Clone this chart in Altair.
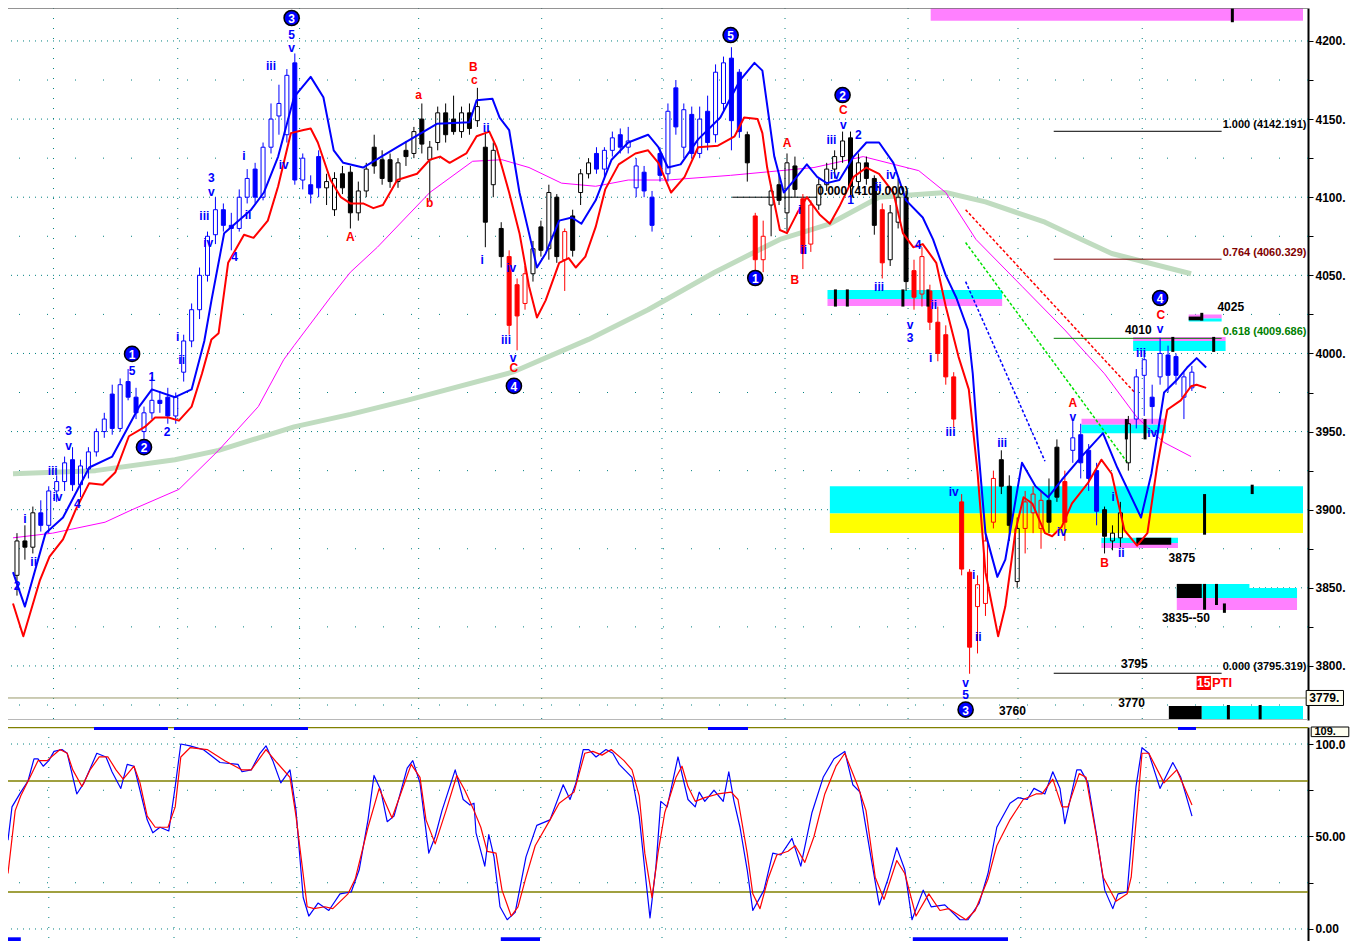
import altair as alt
import pandas as pd

FONT = "Liberation Sans"
W, H1, H2 = 1300, 712, 214
XMIN, XMAX = -0.5, 162.0
PMIN, PMAX = 3765.4, 4221.1
SMIN, SMAX = -6.5, 109.2

# ---------------- candles (one per bar, index = time) ----------------
OPEN = [3858, 3880, 3876, 3898, 3890, 3912, 3918, 3932, 3916, 3926,
        3937, 3950, 3974, 3952, 3982, 3972, 3950, 3962, 3970, 3972,
        3960, 3988, 4008, 4028, 4050, 4076, 4092, 4082, 4080, 4100,
        4118, 4100, 4132, 4152, 4140, 4186, 4111, 4108, 4126, 4106,
        4092, 4115, 4116, 4090, 4104, 4132, 4124, 4124, 4110, 4130,
        4128, 4150, 4124, 4135, 4154, 4150, 4142, 4154, 4149, 4132,
        4108, 4080, 4062, 4044, 4032, 4051, 4081, 4067, 4100, 4060,
        4088, 4103, 4115, 4128, 4118, 4130, 4140, 4132, 4106, 4116,
        4100, 4128, 4115, 4170, 4132, 4153, 4128, 4155, 4140, 4160,
        4189, 4180, 4140, 4088, 4060, 4095, 4108, 4090, 4120, 4099,
        4070, 4095, 4108, 4118, 4126, 4138, 4110, 4122, 4112, 4092,
        4060, 4084, 4100, 4053, 4038, 4040, 4020, 4012, 3985, 3905,
        3860, 3838, 3840, 3892, 3932, 3915, 3854, 3888, 3898, 3888,
        3906, 3940, 3918, 3938, 3948, 3938, 3925, 3900, 3880, 3882,
        3930, 3958, 3986, 3972, 3985, 3999, 3998, 3972, 3978]
HIGH = [3885, 3890, 3902, 3906, 3915, 3922, 3934, 3940, 3932, 3940,
        3952, 3962, 3980, 3984, 3990, 3978, 3966, 3985, 3976, 3978,
        3975, 4012, 4032, 4055, 4078, 4100, 4096, 4090, 4105, 4118,
        4122, 4135, 4160, 4172, 4182, 4192, 4128, 4114, 4130, 4115,
        4116, 4120, 4120, 4110, 4122, 4140, 4130, 4128, 4125, 4136,
        4145, 4160, 4136, 4158, 4160, 4165, 4158, 4160, 4170, 4142,
        4135, 4084, 4066, 4048, 4056, 4072, 4085, 4108, 4102, 4080,
        4092, 4118, 4125, 4132, 4132, 4142, 4144, 4145, 4125, 4120,
        4104, 4132, 4160, 4175, 4160, 4158, 4158, 4165, 4185, 4190,
        4196, 4182, 4142, 4090, 4085, 4108, 4115, 4128, 4126, 4102,
        4098, 4112, 4122, 4130, 4142, 4142, 4128, 4126, 4114, 4096,
        4095, 4112, 4104, 4060, 4068, 4044, 4030, 4018, 3988, 3910,
        3862, 3858, 3885, 3925, 3938, 3922, 3895, 3912, 3915, 3912,
        3920, 3945, 3925, 3958, 3955, 3942, 3930, 3902, 3890, 3905,
        3960, 3990, 4002, 3980, 4010, 4005, 4000, 3988, 3992]
LOW = [3845, 3868, 3872, 3886, 3885, 3905, 3912, 3912, 3908, 3920,
       3934, 3946, 3948, 3950, 3970, 3958, 3944, 3958, 3962, 3955,
       3955, 3982, 4004, 4022, 4046, 4070, 4078, 4066, 4078, 4096,
       4096, 4098, 4128, 4140, 4135, 4108, 4105, 4096, 4100, 4095,
       4088, 4102, 4080, 4085, 4100, 4115, 4108, 4106, 4106, 4120,
       4125, 4128, 4098, 4130, 4135, 4140, 4138, 4140, 4145, 4068,
       4100, 4055, 4012, 4002, 4028, 4046, 4062, 4060, 4058, 4040,
       4062, 4095, 4112, 4115, 4112, 4126, 4128, 4128, 4100, 4100,
       4078, 4110, 4110, 4140, 4125, 4125, 4125, 4130, 4135, 4155,
       4130, 4138, 4110, 4052, 4052, 4075, 4095, 4078, 4100, 4054,
       4065, 4092, 4104, 4112, 4122, 4100, 4105, 4108, 4076, 4048,
       4056, 4080, 4040, 4028, 4030, 4015, 3995, 3980, 3952, 3858,
       3795, 3808, 3832, 3888, 3910, 3880, 3850, 3872, 3885, 3875,
       3885, 3905, 3880, 3930, 3920, 3912, 3890, 3872, 3874, 3876,
       3925, 3952, 3960, 3955, 3980, 3975, 3980, 3958, 3976]
CLOSE = [3880, 3876, 3898, 3890, 3912, 3918, 3930, 3916, 3928, 3937,
         3950, 3958, 3952, 3980, 3972, 3962, 3962, 3970, 3968, 3960,
         3972, 4008, 4028, 4050, 4075, 4092, 4082, 4080, 4100, 4112,
         4100, 4132, 4150, 4160, 4178, 4111, 4125, 4102, 4106, 4110,
         4112, 4106, 4090, 4104, 4118, 4120, 4112, 4110, 4122, 4126,
         4142, 4134, 4132, 4154, 4140, 4142, 4154, 4144, 4158, 4084,
         4130, 4062, 4018, 4024, 4051, 4067, 4066, 4103, 4062, 4078,
         4066, 4115, 4122, 4118, 4130, 4138, 4132, 4136, 4120, 4104,
         4082, 4114, 4155, 4145, 4156, 4128, 4150, 4135, 4180, 4186,
         4149, 4142, 4122, 4060, 4075, 4104, 4098, 4122, 4105, 4064,
         4095, 4108, 4118, 4126, 4136, 4107, 4122, 4112, 4082, 4058,
         4090, 4100, 4046, 4036, 4062, 4020, 4000, 3985, 3958, 3862,
         3812, 3852, 3880, 3920, 3915, 3890, 3888, 3905, 3910, 3906,
         3892, 3908, 3892, 3946, 3930, 3920, 3899, 3883, 3885, 3898,
         3955, 3985, 3996, 3966, 4000, 3986, 3986, 3985, 3988]
BAR_COLOR = list(
    "kkkbbbbbbb"
    "bbbbbbbbbb"
    "bbbbbbbbbb"
    "bbbbbbbbbk"
    "kkkkkkkkkk"
    "kkkkkkkkkk"
    "kkrrrkkkkr"
    "kkkbbbbbbb"
    "bbbbbbbbbb"
    "bbkrrkkkkr"
    "rkkkkkkkkr"
    "kkkrrrrrrr"
    "rrrrkkkrrr"
    "kkrbbbbkkk"
    "kbbbbbbbb"
)
COLMAP = {"k": "#000000", "b": "#0000FF", "r": "#FF0000"}

# ---------------- indicator lines (bar index, price) ----------------
BLUE = [(-0.5, 3860), (1.0, 3838), (3.6, 3885), (5.8, 3895), (9.1, 3927), (12.0, 3934), (15.4, 3966),
        (17.0, 3977), (19.9, 3972), (22.0, 3977), (23.6, 4008), (24.5, 4034), (26.1, 4077), (29.5, 4092),
        (31.1, 4103), (32.9, 4126), (34.9, 4164), (37.0, 4177), (38.6, 4164), (39.9, 4130), (41.1, 4122),
        (43.6, 4119), (47.9, 4132), (52.9, 4147), (57.0, 4148), (57.9, 4162), (59.9, 4163), (60.8, 4151),
        (62.0, 4143), (63.3, 4103), (64.5, 4077), (65.5, 4055), (66.6, 4064), (68.3, 4085), (69.9, 4087),
        (71.1, 4083), (72.9, 4098), (74.9, 4124), (77.0, 4135), (79.5, 4140), (80.8, 4132), (82.0, 4119),
        (83.6, 4121), (85.8, 4137), (88.6, 4151), (91.1, 4175), (92.9, 4186), (93.9, 4181), (95.4, 4126),
        (96.6, 4103), (97.9, 4111), (99.5, 4121), (100.8, 4113), (102.0, 4109), (103.6, 4111), (105.4, 4126),
        (107.0, 4135), (108.6, 4135), (110.4, 4122), (112.0, 4098), (114.1, 4087), (115.4, 4073), (117.0, 4050),
        (118.3, 4036), (119.8, 4015), (120.4, 3987), (121.0, 3945), (122.0, 3885), (123.5, 3857), (124.5, 3868),
        (126.6, 3930), (128.3, 3915), (129.9, 3908), (131.6, 3919), (134.1, 3934), (136.8, 3949), (138.6, 3927),
        (141.6, 3895), (142.9, 3923), (144.5, 3975), (146.1, 3983), (147.4, 3991), (148.6, 3997), (149.8, 3991)]
RED = [(-0.5, 3840), (0.8, 3819), (2.9, 3855), (4.1, 3870), (5.8, 3881), (7.4, 3900), (9.1, 3917), (10.8, 3916),
       (12.4, 3924), (14.1, 3947), (16.1, 3953), (17.4, 3959), (19.1, 3959), (20.4, 3957), (22.0, 3966),
       (23.3, 3987), (24.5, 4009), (25.4, 4013), (26.6, 4058), (28.6, 4076), (29.8, 4074), (31.6, 4085),
       (32.9, 4107), (34.5, 4141), (36.1, 4143), (37.0, 4144), (37.9, 4135), (39.5, 4111), (40.8, 4100),
       (42.0, 4096), (43.6, 4096), (44.9, 4093), (46.1, 4095), (47.9, 4111), (50.4, 4115), (52.0, 4124),
       (53.3, 4126), (54.5, 4122), (56.6, 4128), (57.9, 4139), (59.5, 4142), (60.4, 4132), (62.0, 4103),
       (63.3, 4077), (64.5, 4043), (65.5, 4023), (66.6, 4034), (68.3, 4058), (69.5, 4061), (70.4, 4055),
       (71.6, 4062), (72.9, 4081), (74.1, 4105), (75.8, 4121), (77.9, 4128), (79.5, 4130), (80.8, 4122),
       (82.4, 4103), (84.1, 4113), (85.8, 4132), (88.3, 4133), (90.4, 4139), (91.6, 4151), (93.3, 4150),
       (93.9, 4141), (94.5, 4119), (96.1, 4079), (97.0, 4077), (98.3, 4090), (99.5, 4100), (101.1, 4089),
       (102.4, 4083), (103.6, 4094), (105.4, 4113), (107.0, 4119), (108.6, 4115), (110.4, 4103), (111.6, 4077),
       (112.9, 4068), (114.1, 4070), (115.8, 4058), (117.0, 4030), (118.6, 3998), (119.9, 3977), (121.0, 3924),
       (122.0, 3860), (123.6, 3819), (124.5, 3838), (125.8, 3887), (126.8, 3908), (127.9, 3904), (129.5, 3885),
       (130.4, 3883), (131.6, 3889), (132.9, 3904), (134.9, 3917), (136.6, 3932), (137.9, 3923), (139.5, 3887),
       (141.1, 3877), (142.4, 3885), (143.6, 3927), (144.9, 3964), (146.6, 3970), (147.9, 3979), (148.6, 3980),
       (149.8, 3978)]
MAGENTA = [(-0.5, 3882), (4.5, 3885), (11.1, 3892), (14.5, 3900), (20.4, 3913), (25.4, 3938), (30.4, 3966),
           (33.6, 3996), (34.9, 4005), (39.5, 4036), (42.0, 4052), (45.4, 4068), (52.0, 4103), (57.4, 4123),
           (61.1, 4124), (64.5, 4119), (68.6, 4109), (72.9, 4107), (77.0, 4111), (82.0, 4111), (89.9, 4114),
           (100.4, 4119), (106.6, 4126), (113.6, 4117), (117.0, 4103), (120.8, 4073), (126.6, 4043),
           (132.0, 4015), (137.0, 3987), (141.1, 3959), (144.5, 3943), (147.9, 3934)]
SMA = [(-0.5, 3923), (9.9, 3925), (19.9, 3932), (25.4, 3938), (34.9, 3953), (42.0, 3961), (49.1, 3970),
       (62.4, 3988), (72.0, 4009), (79.5, 4028), (87.9, 4052), (96.1, 4073), (102.4, 4083), (108.6, 4100),
       (117.0, 4103), (122.0, 4097), (129.5, 4084), (134.1, 4073), (137.9, 4064), (147.9, 4051)]
TRENDS = [("blue", "#0000FF", 119.5, 4046, 129.5, 3931),
          ("green", "#00E000", 119.5, 4071, 139.9, 3930),
          ("red", "#FF0000", 119.5, 4092, 140.8, 3975)]

# ---------------- zones / levels (visible extents) ----------------
ZONES = [("#FF80FF", 115.1, XMAX, 4213.0, 4221.1),
         ("#00FFFF", 102.1, 124.1, 4034.9, 4040.6), ("#FF80FF", 102.1, 124.1, 4030.4, 4034.9),
         ("#FF80FF", 140.6, 152.25, 4008.0, 4010.6), ("#00FFFF", 140.6, 152.25, 4001.6, 4008.0),
         ("#FF80FF", 147.6, 151.75, 4022.4, 4025.0), ("#00FFFF", 147.6, 151.75, 4020.5, 4022.4),
         ("#FF80FF", 134.1, 144.75, 3954.4, 3958.2), ("#00FFFF", 134.1, 144.75, 3949.0, 3954.4),
         ("#00FFFF", 102.4, XMAX, 3897.6, 3915.0), ("#FFFF00", 102.4, XMAX, 3885.1, 3897.6),
         ("#00FFFF", 136.6, 146.25, 3878.7, 3882.0), ("#FF80FF", 136.6, 146.25, 3875.5, 3878.7),
         ("#00FFFF", 149.25, 155.25, 3849.9, 3852.5), ("#00FFFF", 146.1, 161.25, 3843.5, 3849.9),
         ("#FF80FF", 146.1, 161.25, 3835.8, 3843.5), ("#000000", 146.1, 149.25, 3843.5, 3852.5),
         ("#000000", 145.1, 149.25, 3766.0, 3774.4), ("#00FFFF", 149.25, XMAX, 3766.0, 3774.4),
         ("#000000", 147.6, 149.2, 4021.2, 4023.6), ("#000000", 141.0, 145.4, 3877.5, 3882.0)]
ZONE_TICKS = [(153.1, 4212, 4221.1), (103.1, 4030, 4041), (104.6, 4030, 4041), (111.6, 4030, 4041),
              (114.75, 4030, 4041), (145.6, 4001, 4010.6), (150.75, 4001, 4010.6), (149.25, 4021, 4026),
              (139.75, 3945, 3958), (142.1, 3945, 3958), (149.6, 3884, 3910), (155.6, 3910, 3916),
              (149.6, 3836, 3852.5), (151.1, 3839, 3852.5), (152.1, 3834, 3840),
              (152.6, 3765.5, 3775), (156.6, 3765.5, 3775)]
FIB = [(4142.191, "1.000 (4142.191)", "#000000"), (4060.329, "0.764 (4060.329)", "#800000"),
       (4009.686, "0.618 (4009.686)", "#008000"), (3795.319, "0.000 (3795.319)", "#000000")]
FIB_T0, FIB_T1 = 130.6, 151.75
LAST_PRICE = 3779.5

# ---------------- annotations ----------------
BLUE_TXT = [(34.6, 4203.8, "5"), (34.6, 4195.5, "v"), (32.0, 4184, "iii"), (33.6, 4120.6, "iv"),
            (24.5, 4112.3, "3"), (24.5, 4103.4, "v"), (23.6, 4088, "iii"), (24.1, 4070.7, "iv"),
            (27.4, 4061.8, "4"), (28.6, 4126.4, "i"), (29.1, 4088.6, "ii"), (20.25, 4010.6, "i"),
            (20.75, 3995.8, "ii"), (14.5, 3988.8, "5"), (17.0, 3985, "1"), (18.9, 3949.8, "2"),
            (6.5, 3950.4, "3"), (6.5, 3940.8, "v"), (4.5, 3924.8, "iii"), (5.1, 3908, "iv"),
            (7.6, 3903.7, "4"), (1.0, 3894, "i"), (2.1, 3866.6, "ii"), (0.0, 3851.2, "2"),
            (59.1, 4144.3, "ii"), (58.6, 4059.8, "i"), (62.25, 4054.7, "iv"), (61.6, 4008.6, "iii"),
            (62.5, 3997.1, "v"), (102.6, 4136.6, "iii"), (104.1, 4146.2, "v"), (106.0, 4139.8, "2"),
            (103.0, 4114.2, "iv"), (105.0, 4098.2, "1"), (108.5, 4106.6, "ii"), (110.1, 4114.2, "iv"),
            (98.6, 4091.8, "i"), (99.1, 4066.2, "ii"), (108.6, 4042.6, "iii"), (112.5, 4018.2, "v"),
            (112.5, 4009.9, "3"), (113.5, 4069.4, "4"), (115.5, 4031, "ii"), (115.1, 3997.1, "i"),
            (117.6, 3949.8, "iii"), (118.0, 3911.4, "iv"), (124.1, 3942.7, "iii"), (119.5, 3789.1, "v"),
            (119.5, 3781.4, "5"), (120.5, 3858.2, "i"), (121.1, 3818.6, "ii"), (133.0, 3959.4, "v"),
            (131.6, 3885.8, "iv"), (138.1, 3908.2, "i"), (139.1, 3872.3, "ii"), (141.6, 4000.3, "iii"),
            (143.0, 3949.1, "iv"), (144.0, 4015.7, "v")]
RED_TXT = [(42.0, 4074.6, "A"), (50.6, 4165.4, "a"), (52.0, 4096.3, "b"), (57.5, 4183.4, "B"),
           (57.6, 4175, "c"), (62.6, 3990.7, "C"), (97.0, 4134.7, "A"), (98.0, 4047, "B"),
           (104.1, 4155.8, "C"), (133.0, 3968.3, "A"), (137.0, 3865.9, "B"), (144.1, 4024.6, "C")]
CIRCLES = [(34.6, 4214.7, "3"), (14.5, 3999.7, "1"), (16.0, 3940, "2"), (62.6, 3979.2, "4"),
           (89.9, 4203.8, "5"), (104.0, 4165.4, "2"), (93.0, 4048.3, "1"), (119.5, 3772.0, "3"),
           (144.0, 4035.5, "4")]
NOTES = [(152.9, 4030, "4025"), (141.25, 4015, "4010"), (146.75, 3869, "3875"),
         (147.25, 3830.7, "3835--50"), (140.75, 3801, "3795"), (140.4, 3776.3, "3770"),
         (125.4, 3771, "3760")]
REF_LINE = (90.1, 100.8, 4100.0, "0.000 (4100.000)")

VGRID = [4.6, 20.25, 35.6, 50.6, 66.1, 81.25, 96.75, 112.25, 126.1, 141.75]
P_MAJOR = [3800, 3850, 3900, 3950, 4000, 4050, 4100, 4150, 4200]
P_MINOR = [3775, 3825, 3875, 3925, 3975, 4025, 4075, 4125, 4175]
P_TICKS = [3775, 3800, 3825, 3850, 3875, 3900, 3925, 3950, 3975, 4000, 4025, 4050,
           4075, 4100, 4125, 4150, 4175, 4200]

# ---------------- stochastic ----------------
STOCH_K = [(-0.5, 48), (0.0, 66), (1.1, 74), (2.0, 80), (2.75, 92), (3.25, 92), (3.9, 88), (4.6, 91),
           (5.25, 96), (6.25, 97), (6.9, 95), (8.1, 73), (9.0, 79), (10.6, 95), (11.75, 93), (12.5, 85),
           (13.6, 76), (14.4, 89), (15.25, 88), (16.0, 75), (16.9, 59), (17.6, 52), (18.5, 55), (19.6, 53),
           (20.4, 77), (21.1, 100), (22.25, 99), (23.9, 97), (26.0, 90), (28.25, 89), (28.75, 85), (29.9, 86),
           (31.0, 95), (31.75, 99), (32.6, 91), (33.6, 79), (34.75, 86), (35.5, 64), (36.4, 17), (37.1, 7),
           (38.25, 14), (39.6, 10), (41.0, 19), (42.4, 20), (43.4, 32), (44.5, 59), (45.25, 83), (46.1, 75),
           (46.9, 58), (47.75, 61), (49.4, 87), (50.1, 91), (51.0, 79), (52.1, 41), (52.9, 50), (53.75, 64),
           (55.4, 86), (56.4, 70), (57.25, 67), (57.75, 68), (58.0, 52), (59.1, 34), (59.6, 51), (60.25, 39),
           (61.0, 12), (61.9, 5), (62.9, 9), (64.25, 39), (65.6, 56), (67.25, 59), (68.9, 78), (69.75, 70),
           (70.5, 79), (71.4, 97), (72.1, 97), (73.0, 93), (74.25, 97), (75.1, 95), (75.9, 89), (77.5, 82),
           (78.4, 61), (79.1, 32), (79.75, 6), (80.5, 34), (81.1, 69), (81.9, 66), (83.25, 93), (84.5, 70),
           (85.4, 66), (85.9, 74), (86.6, 69), (87.75, 75), (88.9, 69), (89.6, 85), (90.25, 69), (91.0, 55),
           (91.9, 32), (92.6, 10), (94.0, 21), (95.1, 41), (96.1, 40), (97.5, 49), (98.6, 34), (100.0, 63),
           (101.4, 82), (102.75, 92), (104.1, 96), (105.1, 78), (106.0, 74), (107.4, 38), (108.4, 13),
           (109.5, 27), (110.6, 44), (111.6, 32), (112.5, 5), (113.9, 21), (114.9, 12), (116.6, 13),
           (118.5, 5), (119.5, 5), (120.9, 14), (122.0, 30), (123.1, 55), (124.75, 68), (125.75, 71),
           (126.9, 70), (127.75, 76), (129.1, 73), (130.1, 85), (131.0, 76), (131.6, 57), (133.1, 86),
           (133.6, 86), (134.5, 79), (135.6, 50), (136.6, 21), (137.6, 11), (138.25, 19), (139.4, 20),
           (140.5, 77), (141.25, 98), (142.1, 95), (143.5, 76), (145.1, 90), (146.1, 82), (147.5, 61)]
STOCH_D = [(-0.5, 30), (0.4, 64), (1.1, 72), (2.25, 82), (3.25, 91), (4.4, 91), (6.0, 97), (6.9, 95),
           (7.6, 86), (8.75, 77), (9.75, 86), (10.9, 93), (12.0, 93), (13.0, 86), (13.9, 81), (15.25, 88),
           (16.0, 79), (16.9, 61), (17.9, 55), (19.5, 55), (20.4, 66), (21.1, 93), (22.25, 98), (24.4, 97),
           (26.6, 91), (28.75, 86), (29.9, 86), (31.75, 97), (33.1, 90), (34.75, 82), (35.5, 61), (36.9, 12),
           (37.75, 11), (39.1, 12), (40.1, 11), (42.0, 19), (42.9, 27), (44.5, 55), (45.9, 76), (47.5, 60),
           (48.5, 72), (49.9, 89), (51.0, 82), (51.75, 59), (52.9, 46), (54.25, 64), (55.6, 83), (56.6, 75),
           (57.75, 64), (58.6, 55), (59.4, 42), (60.5, 41), (61.25, 21), (62.4, 7), (63.25, 12), (64.25, 28),
           (65.4, 45), (67.25, 59), (68.4, 68), (70.25, 74), (71.6, 95), (72.6, 96), (73.75, 94), (74.9, 97),
           (76.5, 91), (77.5, 86), (78.4, 72), (79.1, 41), (80.0, 17), (80.75, 41), (81.6, 63), (83.0, 82),
           (83.75, 88), (84.5, 77), (85.4, 69), (86.6, 71), (88.25, 73), (89.9, 74), (90.75, 70), (91.9, 41),
           (92.6, 19), (93.5, 11), (94.5, 27), (95.6, 40), (97.0, 42), (97.9, 45), (99.1, 36), (100.25, 50),
           (101.6, 73), (103.0, 88), (104.1, 95), (105.75, 77), (106.75, 64), (107.9, 28), (109.0, 16),
           (110.6, 37), (111.6, 30), (113.0, 7), (114.6, 19), (116.0, 10), (117.1, 11), (119.25, 5),
           (120.4, 10), (122.0, 27), (123.1, 45), (124.75, 59), (126.4, 70), (128.0, 73), (128.75, 73),
           (130.1, 81), (131.25, 66), (132.0, 66), (133.4, 84), (134.25, 82), (135.4, 54), (136.4, 28),
           (138.0, 15), (139.4, 19), (139.9, 28), (141.25, 95), (142.1, 95), (144.0, 79), (145.6, 86),
           (147.5, 67)]
STOCH_BARS = [(10.25, 19.5, 107.6, 109.2), (20.25, 37.0, 107.6, 109.2), (87.0, 92.0, 107.6, 109.2),
              (145.75, 148.0, 107.6, 109.2), (-0.5, 1.1, -6.5, -4.5), (61.1, 66.0, -6.5, -4.5),
              (112.6, 124.5, -6.5, -4.5)]
S_TICKS = [0, 25, 50, 75, 100]

# ---------------- scales / axes ----------------
XS = alt.Scale(domain=[XMIN, XMAX], nice=False, zero=False)
PS = alt.Scale(domain=[PMIN, PMAX], nice=False, zero=False)
SS = alt.Scale(domain=[SMIN, SMAX], nice=False, zero=False)
AXCOMMON = dict(orient="right", title=None, grid=False, tickSize=5, tickColor="black",
                domainColor="black", domainWidth=2, labelFont=FONT, labelFontSize=12,
                labelFontWeight="bold", labelColor="black", labelPadding=2,
                labelOverlap=False, labelFlush=False)
PAX = alt.Axis(values=P_TICKS,
               labelExpr="datum.value % 50 == 0 ? format(datum.value, 'd') + '.' : ''", **AXCOMMON)
SAX = alt.Axis(values=S_TICKS,
               labelExpr="datum.value == 100 ? '100.0' : datum.value == 50 ? '50.00' : datum.value == 0 ? '0.00' : ''",
               **AXCOMMON)


def X(f):
    return alt.X(f, type="quantitative", scale=XS, axis=None)


def P(f):
    return alt.Y(f, type="quantitative", scale=PS, axis=PAX)


def S(f):
    return alt.Y(f, type="quantitative", scale=SS, axis=SAX)


def pairs(lst, a, b):
    return pd.DataFrame(lst, columns=[a, b])


# ---------------- data frames ----------------
cdf = pd.DataFrame({"t": list(range(len(OPEN))), "o": OPEN, "h": HIGH, "l": LOW, "c": CLOSE, "k": BAR_COLOR})
cdf["col"] = cdf["k"].map(COLMAP)
cdf["top"] = cdf[["o", "c"]].max(axis=1)
cdf["bot"] = cdf[["o", "c"]].min(axis=1)
cdf["fillc"] = [col if c < o else "transparent" for col, c, o in zip(cdf["col"], cdf["c"], cdf["o"])]

zdf = pd.DataFrame(ZONES, columns=["col", "t0", "t1", "p0", "p1"])
ztdf = pd.DataFrame(ZONE_TICKS, columns=["t", "p0", "p1"])
trows = []
for name, col, t0, p0, t1, p1 in TRENDS:
    trows += [{"name": name, "col": col, "t": t0, "p": p0}, {"name": name, "col": col, "t": t1, "p": p1}]
trdf = pd.DataFrame(trows)
fdf = pd.DataFrame(FIB, columns=["p", "label", "col"])
fdf["t0"] = FIB_T0
fdf["t1"] = FIB_T1

btxt = pd.DataFrame(BLUE_TXT, columns=["t", "p", "txt"])
rtxt = pd.DataFrame(RED_TXT, columns=["t", "p", "txt"])
cdf2 = pd.DataFrame(CIRCLES, columns=["t", "p", "txt"])
ndf = pd.DataFrame(NOTES, columns=["t", "p", "txt"])

LINE = dict(clip=True, strokeJoin="round", strokeCap="butt")

# ---------------- top panel ----------------
top_border = alt.Chart(pd.DataFrame({"p": [PMAX]})).mark_rule(
    color="#707070", strokeWidth=1.5, clip=True).encode(y=P("p"))
grid_major = alt.Chart(pd.DataFrame({"p": P_MAJOR})).mark_rule(
    color="#008080", strokeDash=[1, 5], strokeWidth=1, clip=True).encode(y=P("p"))
grid_minor = alt.Chart(pd.DataFrame({"p": P_MINOR})).mark_rule(
    color="#008080", strokeDash=[1, 27], strokeWidth=1, clip=True).encode(y=P("p"))
grid_v = alt.Chart(pd.DataFrame({"t": VGRID})).mark_rule(
    color="#008080", strokeDash=[1, 9], strokeWidth=1, clip=True).encode(x=X("t"))

zones = alt.Chart(zdf).mark_rect(clip=True).encode(
    x=X("t0"), x2="t1", y=P("p0"), y2="p1", fill=alt.Fill("col:N", scale=None))

sma = alt.Chart(pairs(SMA, "t", "p")).mark_line(color="#C0DCC0", strokeWidth=5, **LINE).encode(x=X("t"), y=P("p"))
mag = alt.Chart(pairs(MAGENTA, "t", "p")).mark_line(color="#FF00FF", strokeWidth=1, **LINE).encode(x=X("t"), y=P("p"))
trend = alt.Chart(trdf).mark_line(strokeWidth=1.5, strokeDash=[3, 2], **LINE).encode(
    x=X("t"), y=P("p"), color=alt.Color("col:N", scale=None), detail="name:N")

fib_lines = alt.Chart(fdf).mark_rule(strokeWidth=1, clip=True).encode(
    x=X("t0"), x2="t1", y=P("p"), color=alt.Color("col:N", scale=None))
fib_text = alt.Chart(fdf).mark_text(align="left", baseline="middle", dy=-6, dx=1, font=FONT,
                                    fontSize=11, fontWeight="bold").encode(
    x=X("t1"), y=P("p"), text="label:N", color=alt.Color("col:N", scale=None))

ref_df = pd.DataFrame([{"t0": REF_LINE[0], "t1": REF_LINE[1], "p": REF_LINE[2], "txt": REF_LINE[3]}])
ref_line = alt.Chart(ref_df).mark_rule(color="black", strokeWidth=1, clip=True).encode(
    x=X("t0"), x2="t1", y=P("p"))
ref_text = alt.Chart(ref_df).mark_text(align="left", baseline="middle", dy=-6, font=FONT, fontSize=12,
                                       fontWeight="bold", color="black").encode(x=X("t1"), y=P("p"), text="txt:N")

last_line = alt.Chart(pd.DataFrame({"p": [LAST_PRICE]})).mark_rule(
    color="#9a9a6a", strokeWidth=1, clip=True).encode(y=P("p"))
panel_sep = alt.Chart(pd.DataFrame({"p": [PMIN]})).mark_rule(
    color="#a0a0a0", strokeWidth=1.5, clip=True).encode(y=P("p"))

wick_hi = alt.Chart(cdf).mark_rule(strokeWidth=1, clip=True).encode(
    x=X("t"), y=P("h"), y2="top", color=alt.Color("col:N", scale=None))
wick_lo = alt.Chart(cdf).mark_rule(strokeWidth=1, clip=True).encode(
    x=X("t"), y=P("bot"), y2="l", color=alt.Color("col:N", scale=None))
bodies = alt.Chart(cdf).mark_bar(size=4, strokeWidth=1, orient="vertical", clip=True).encode(
    x=X("t"), y=P("o"), y2="c",
    fill=alt.Fill("fillc:N", scale=None), stroke=alt.Stroke("col:N", scale=None))

blue_line = alt.Chart(pairs(BLUE, "t", "p")).mark_line(color="#0000FF", strokeWidth=2, **LINE).encode(
    x=X("t"), y=P("p"))
red_line = alt.Chart(pairs(RED, "t", "p")).mark_line(color="#FF0000", strokeWidth=2, **LINE).encode(
    x=X("t"), y=P("p"))

zticks = alt.Chart(ztdf).mark_rule(color="black", strokeWidth=3, clip=True).encode(
    x=X("t"), y=P("p0"), y2="p1")

txt_style = dict(font=FONT, fontSize=12, fontWeight="bold", align="center", baseline="middle", clip=True)
blue_text = alt.Chart(btxt).mark_text(color="#0000FF", **txt_style).encode(x=X("t"), y=P("p"), text="txt:N")
red_text = alt.Chart(rtxt).mark_text(color="#FF0000", **txt_style).encode(x=X("t"), y=P("p"), text="txt:N")
note_text = alt.Chart(ndf).mark_text(color="#000000", **txt_style).encode(x=X("t"), y=P("p"), text="txt:N")
circ = alt.Chart(cdf2).mark_point(shape="circle", filled=True, size=230, fill="#0000FF", stroke="#000000",
                                  strokeWidth=1.5, opacity=1, clip=True).encode(x=X("t"), y=P("p"))
circ_txt = alt.Chart(cdf2).mark_text(color="white", font=FONT, fontSize=12, fontWeight="bold",
                                     align="center", baseline="middle", dy=1, clip=True).encode(
    x=X("t"), y=P("p"), text="txt:N")

pti_df = pd.DataFrame([{"t0": 148.6, "t1": 150.4, "p0": 3784.6, "p1": 3793.6, "t": 149.5, "p": 3789.1}])
pti_box = alt.Chart(pti_df).mark_rect(color="#FF0000").encode(x=X("t0"), x2="t1", y=P("p0"), y2="p1")
pti_15 = alt.Chart(pti_df).mark_text(text="15", color="white", font=FONT, fontSize=12, fontWeight="bold",
                                     baseline="middle").encode(x=X("t"), y=P("p"))
pti_txt = alt.Chart(pti_df).mark_text(text="PTI", color="#FF0000", font=FONT, fontSize=13, fontWeight="bold",
                                      align="left", baseline="middle", dx=1).encode(x=X("t1"), y=P("p"))

lp_df = pd.DataFrame([{"t0": 162.4, "t1": 167.1, "p0": 3774.7, "p1": 3784.3, "t": 162.8, "p": LAST_PRICE,
                       "txt": "3779."}])
lp_box = alt.Chart(lp_df).mark_rect(fill="#FFFFF0", stroke="black", strokeWidth=1).encode(
    x=X("t0"), x2="t1", y=P("p0"), y2="p1")
lp_txt = alt.Chart(lp_df).mark_text(align="left", baseline="middle", font=FONT, fontSize=12,
                                    fontWeight="bold", color="black").encode(x=X("t"), y=P("p"), text="txt:N")

top = alt.layer(
    grid_major, grid_minor, grid_v, zones, sma, mag, trend, fib_lines, last_line, ref_line,
    wick_hi, wick_lo, bodies, blue_line, red_line, zticks, fib_text, ref_text,
    blue_text, red_text, note_text, circ, circ_txt, pti_box, pti_15, pti_txt, panel_sep, top_border,
    lp_box, lp_txt
).properties(width=W, height=H1)

# ---------------- bottom panel ----------------
s_major = alt.Chart(pd.DataFrame({"v": [0, 50, 100]})).mark_rule(
    color="#008080", strokeDash=[1, 5], clip=True).encode(y=S("v"))
s_minor = alt.Chart(pd.DataFrame({"v": [25, 75]})).mark_rule(
    color="#008080", strokeDash=[1, 27], clip=True).encode(y=S("v"))
s_vgrid = alt.Chart(pd.DataFrame({"t": VGRID})).mark_rule(
    color="#008080", strokeDash=[1, 9], clip=True).encode(x=X("t"))
s_olive = alt.Chart(pd.DataFrame({"v": [20, 80, 108.9]})).mark_rule(
    color="#808000", strokeWidth=1.5, clip=True).encode(y=S("v"))
s_bars = alt.Chart(pd.DataFrame(STOCH_BARS, columns=["t0", "t1", "v0", "v1"])).mark_rect(
    color="#0000FF", clip=True).encode(x=X("t0"), x2="t1", y=S("v0"), y2="v1")
k_line = alt.Chart(pairs(STOCH_K, "t", "v")).mark_line(color="#0000FF", strokeWidth=1.2, **LINE).encode(
    x=X("t"), y=S("v"))
d_line = alt.Chart(pairs(STOCH_D, "t", "v")).mark_line(color="#FF0000", strokeWidth=1.2, **LINE).encode(
    x=X("t"), y=S("v"))
sb_df = pd.DataFrame([{"t0": 162.4, "t1": 167.1, "v0": 104.0, "v1": 109.2, "t": 162.8, "v": 106.6, "txt": "109."}])
sb_box = alt.Chart(sb_df).mark_rect(fill="#FFFFF0", stroke="black", strokeWidth=1).encode(
    x=X("t0"), x2="t1", y=S("v0"), y2="v1")
sb_txt = alt.Chart(sb_df).mark_text(align="left", baseline="middle", font=FONT, fontSize=11,
                                    fontWeight="bold", color="black").encode(x=X("t"), y=S("v"), text="txt:N")

bottom = alt.layer(s_major, s_minor, s_vgrid, s_olive, s_bars, k_line, d_line, sb_box, sb_txt).properties(
    width=W, height=H2)

chart = alt.vconcat(top, bottom, spacing=5).properties(
    padding=0, background="white"
).configure_view(stroke=None)

chart.save("out.html", embed_options={"renderer": "svg", "actions": False})
